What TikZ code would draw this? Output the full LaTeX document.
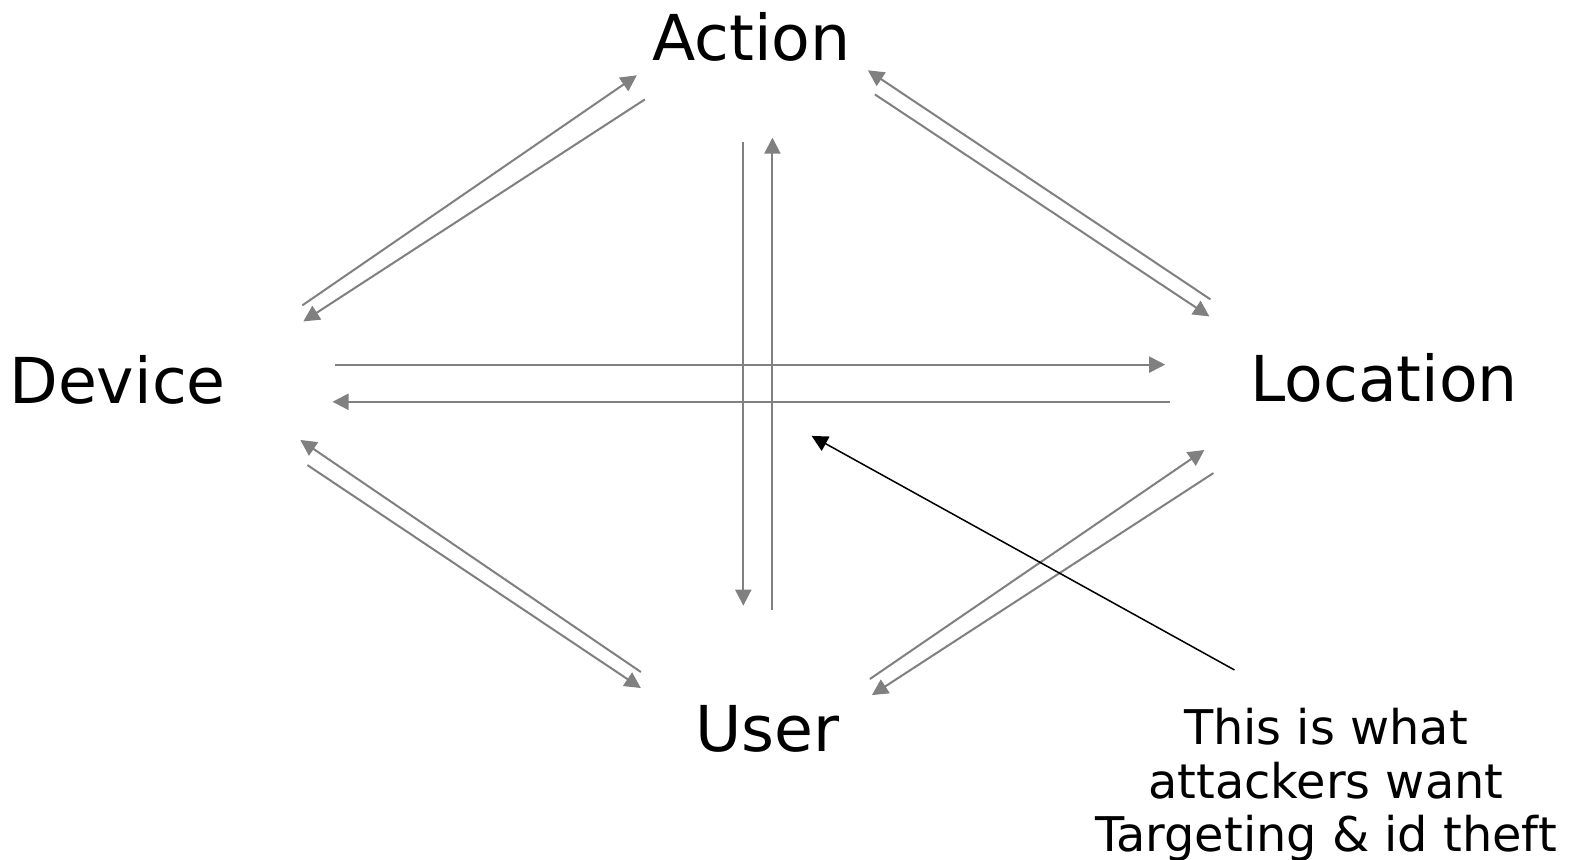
\documentclass[tikz,border=0pt]{standalone}
\usepackage{fontspec}
\setmainfont{DejaVu Sans}
\usetikzlibrary{arrows.meta,calc}
\definecolor{LinkGray}{HTML}{808080}

\begin{document}
\begin{tikzpicture}[
  x=0.5pt, y=-0.5pt,
  term/.style={anchor=base, inner sep=0pt, font=\fontsize{31.5}{36}\selectfont},
  link/.style={draw=LinkGray, line width=1pt,
    -{Triangle[length=8pt, width=8pt]}},
  note/.style={anchor=north, inner sep=0pt, align=center,
    font=\fontsize{23.8}{26.5}\selectfont}
]
  \useasboundingbox (0,0) rectangle (1568,856);
  \node[term] (act) at (748,60) {Action};
  \node[term] (dev) at (117,402) {Device};
  \node[term] (loc) at (1378,400) {Location};
  \node[term] (usr) at (764,748) {User};
  \node[note] (hint) at (1320,705) {This is what\\attackers want\\Targeting \& id theft};
  \coordinate (cross) at (808,434);
  % device -- action
  \draw[link] ($(dev.base)+(184,-98)$) -- ($(act.base)+(-114,15)$);
  \draw[link] ($(act.base)+(-106,39)$) -- ($(dev.base)+(185,-82)$);
  % action -- location
  \draw[link] ($(act.base)+(123,34)$) -- ($(loc.base)+(-174,-85)$);
  \draw[link] ($(loc.base)+(-173,-102)$) -- ($(act.base)+(116,10)$);
  % action -- user
  \draw[link] ($(act.base)+(-8,81)$) -- ($(usr.base)+(-24,-145)$);
  \draw[link] ($(usr.base)+(5,-141)$) -- ($(act.base)+(21,77)$);
  % device -- location
  \draw[link] ($(dev.base)+(217,-39)$) -- ($(loc.base)+(-218,-37)$);
  \draw[link] ($(loc.base)+(-213,0)$) -- ($(dev.base)+(214,-2)$);
  % user -- device
  \draw[link] ($(usr.base)+(-126,-79)$) -- ($(dev.base)+(182,36)$);
  \draw[link] ($(dev.base)+(189,61)$) -- ($(usr.base)+(-126,-63)$);
  % user -- location
  \draw[link] ($(usr.base)+(102,-72)$) -- ($(loc.base)+(-179,48)$);
  \draw[link] ($(loc.base)+(-170,71)$) -- ($(usr.base)+(104,-56)$);
  % pointer from the note
  \draw[line width=0.75pt, -{Triangle[length=8pt, width=8pt]}]
    ($(hint.north)+(-91,-38)$) -- (cross);
\end{tikzpicture}
\end{document}
